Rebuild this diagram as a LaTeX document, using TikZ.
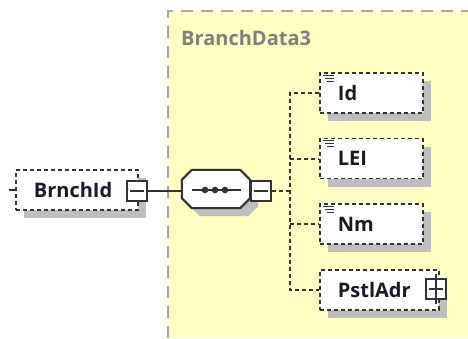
\documentclass[tikz,border=0pt]{standalone}
\usepackage{fontspec}
\setmainfont{Open Sans}
\usetikzlibrary{shadows}
\definecolor{bgyellow}{RGB}{255,255,196}
\definecolor{frameg}{RGB}{165,165,165}
\definecolor{titleg}{RGB}{128,128,128}
\definecolor{edge}{RGB}{50,50,50}
\definecolor{shadowg}{RGB}{190,190,190}
\definecolor{txt}{RGB}{25,25,40}
\tikzset{
  boxshadow/.style={drop shadow={shadow xshift=8pt,shadow yshift=-8pt,fill=shadowg,opacity=1}},
  elem/.style={draw=edge,line width=1.8pt,dash pattern=on 4pt off 3pt,fill=white,boxshadow,
    minimum height=40pt,inner xsep=18pt,inner ysep=0pt,align=left,
    font=\bfseries\fontsize{20}{20}\selectfont,text=txt,anchor=west},
  toggle/.style={draw=edge,line width=2pt,fill=white,minimum size=20pt,inner sep=0pt},
  conn/.style={draw=edge,line width=2pt},
  dconn/.style={draw=edge,line width=2pt,dash pattern=on 4pt off 3pt},
  seqbox/.style={draw=none,minimum width=68pt,minimum height=38pt,inner sep=0pt},
  icon/.style={draw=edge,line width=0.9pt}
}
\begin{document}
\begin{tikzpicture}[x=1pt,y=-1pt]
\useasboundingbox (0,0) rectangle (468,338);
% complex type frame
\fill[bgyellow] (168,11) rectangle (468,338);
\draw[frameg,line width=1.8pt,dash pattern=on 12pt off 8pt] (168,338) -- (168,11) -- (468,11);
\node[anchor=base west,inner sep=0pt,text=titleg,font=\bfseries\fontsize{20}{20}\selectfont] (title) at (181,45) {BranchData3};
% BrnchId element
\node[elem,text width=86pt] (br) at (15,190) {BrnchId};
\node[toggle] (brm) at (137,190.5) {};
\draw[conn] ([xshift=4pt]brm.west) -- ([xshift=-4pt]brm.east);
\coordinate (stubA) at (9,190);
\draw[conn] (stubA) -- (br.west);
% sequence compositor
\node[seqbox] (seq) at (216,189) {};
\fill[shadowg] ([xshift=18pt,yshift=-8pt]seq.north west) -- ([xshift=-2pt,yshift=-8pt]seq.north east)
  -- ([xshift=8pt,yshift=-18pt]seq.north east) -- ([xshift=8pt,yshift=2pt]seq.south east)
  -- ([xshift=-2pt,yshift=-8pt]seq.south east) -- ([xshift=18pt,yshift=-8pt]seq.south west)
  -- ([xshift=8pt,yshift=2pt]seq.south west) -- ([xshift=8pt,yshift=-18pt]seq.north west) -- cycle;
\draw[conn,fill=white] ([xshift=10pt]seq.north west) -- ([xshift=-10pt]seq.north east)
  -- ([yshift=-10pt]seq.north east) -- ([yshift=10pt]seq.south east)
  -- ([xshift=-10pt]seq.south east) -- ([xshift=10pt]seq.south west)
  -- ([yshift=10pt]seq.south west) -- ([yshift=-10pt]seq.north west) -- cycle;
\node[toggle] (seqm) at (260.5,190.5) {};
\draw[conn] ([xshift=4pt]seqm.west) -- ([xshift=-4pt]seqm.east);
\draw[conn] (brm.east) -- (seq.west |- brm.east);
\coordinate (sl) at (192,190);
\coordinate (sr) at (241,190);
\draw[conn] (sl) -- (sr);
\foreach \xx in {205,215,225} \fill[edge] (\xx,190) circle (3.3pt);
% children
\node[elem,text width=67pt] (id) at (319,93) {Id};
\node[elem,text width=67pt] (lei) at (319,158.5) {LEI};
\node[elem,text width=67pt] (nm) at (319,224) {Nm};
\node[elem,text width=83pt] (pa) at (319,290) {PstlAdr};
\node[toggle] (pap) at (436,289) {};
\draw[conn] ([xshift=4pt]pap.west) -- ([xshift=-4pt]pap.east);
\draw[conn] ([yshift=4pt]pap.north) -- ([yshift=-4pt]pap.south);
% connectors
\coordinate (bus) at (290,190.5);
\draw[dconn] (seqm.east) -- (bus);
\draw[dconn] (id.west) -| (290,190.5) |- (pa.west);
\draw[dconn] (290,158.5) -- (lei.west);
\draw[dconn] (290,224) -- (nm.west);
% simple content icons
\foreach \n in {id,lei,nm}{
  \draw[icon] ([xshift=4pt,yshift=-3pt]\n.north west) -- ++(11pt,0);
  \draw[icon] ([xshift=6pt,yshift=-6pt]\n.north west) -- ++(9pt,0);
  \draw[icon] ([xshift=8pt,yshift=-9pt]\n.north west) -- ++(7pt,0);
}
\end{tikzpicture}
\end{document}
